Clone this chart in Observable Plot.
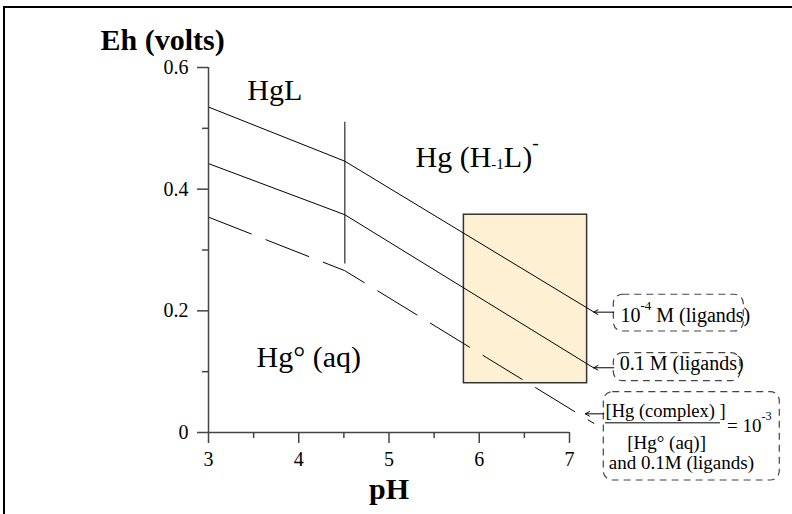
<!DOCTYPE html>
<html><head><meta charset="utf-8">
<script src="https://cdn.jsdelivr.net/npm/d3@7"></script>
<script src="https://cdn.jsdelivr.net/npm/@observablehq/plot@0.6"></script>
<style>
html,body{margin:0;padding:0;background:#fff;overflow:hidden}
#wrap{position:relative;width:792px;height:514px}
#frame{position:absolute;left:3px;top:6px;width:820px;height:620px;border-left:2px solid #000;border-top:2px solid #000;pointer-events:none}
</style></head><body><div id="wrap"><div id="frame"></div></div>
<script>
// ---- data ----
const pH = [3, 4.51, 7.27];
const eh_1e4 = [0.535, 0.446, 0.198];   // 10^-4 M (ligands)
const eh_01 = [0.442, 0.358, 0.106];    // 0.1 M (ligands)
const eh_ratio = [0.354, 0.266, 0.015]; // [Hg complex]/[Hg°(aq)] = 10^-3
const boundaryPH = [4.51];
const boundaryEh = [0.277, 0.51];
const boxPH = [5.83, 7.195];
const boxEh = [0.081, 0.358];
const xTicks = [3, 4, 5, 6, 7];
const xMinor = [3.5, 4.5, 5.5, 6.5];
const yTicks = [0, 0.2, 0.4, 0.6];
const yMinor = [0.1, 0.3, 0.5];
const yTickLabels = ["0", "0.2", "0.4", "0.6"];
const regionText = ["HgL", "Hg (H_{-1}L)^{-}", "Hg° (aq)"];
const regionPH = [3.429, 5.294, 3.532];
const regionEh = [0.563, 0.452, 0.124];
const yTitle = "Eh (volts)";
const yTitlePos = [1.803, 0.644];
const xTitle = "pH";
const xTitlePos = [5.0, -0.093];
const legendText = ["10^{-4} M (ligands)", "0.1 M (ligands)"];
const legendPH = [7.565, 7.557];
const legendEh = [0.1914, 0.1136];
const numeratorText = ["[Hg (complex) ]"];
const numeratorPos = [7.399, 0.0352];
const ratioText = ["= 10^{-3}", "[Hg° (aq)]", "and 0.1M (ligands)"];
const ratioPH = [8.745, 7.639, 7.436];
const ratioEh = [0.0105, -0.0168, -0.0508];
const noteBoxPH1 = [7.491, 7.491, 7.380];
const noteBoxPH2 = [8.931, 8.895, 9.330];
const noteBoxEh1 = [0.166, 0.0843, -0.0789];
const noteBoxEh2 = [0.2264, 0.1304, 0.0663];
const arrowFromPH = [7.491, 7.491, 7.380];
const arrowToPH = [7.270, 7.270, 7.177];
const arrowEh = [0.1978, 0.1064, 0.0307];
const fractionBarPH = [7.399, 8.673];
const fractionBarEh = [0.0159];

// ---- build tables ----
const series = (vals) => pH.map((x, i) => ({x, y: vals[i]}));
const regions = regionText.map((t, i) => ({t, x: regionPH[i], y: regionEh[i]}));
const legends = legendText.map((t, i) => ({t, x: legendPH[i], y: legendEh[i]}));
const ratios = ratioText.map((t, i) => ({t, x: ratioPH[i], y: ratioEh[i]}));
const noteBoxes = noteBoxPH1.map((x1, i) => ({x1, x2: noteBoxPH2[i], y1: noteBoxEh1[i], y2: noteBoxEh2[i]}));
const arrows = arrowFromPH.map((x1, i) => ({x1, x2: arrowToPH[i], y: arrowEh[i]}));

const AX = "#444";
const plot = Plot.plot({
  width: 792, height: 514,
  marginLeft: 208, marginRight: 223, marginTop: 67, marginBottom: 82,
  x: {domain: [3, 7]},
  y: {domain: [0, 0.6]},
  style: {fontFamily: "'Liberation Serif', 'Times New Roman', serif", fontSize: "20px", color: "black", background: "white"},
  marks: [
    Plot.rect([{x1: boxPH[0], x2: boxPH[1], y1: boxEh[0], y2: boxEh[1]}], {x1: "x1", x2: "x2", y1: "y1", y2: "y2", fill: "#FEF0D3", stroke: "#333", strokeWidth: 1.5}),
    Plot.ruleX([0], {x: () => boundaryPH[0], y1: () => boundaryEh[0], y2: () => boundaryEh[1], stroke: "#555", strokeWidth: 1.5}),
    Plot.line(series(eh_1e4), {x: "x", y: "y", stroke: "black", strokeWidth: 1}),
    Plot.line(series(eh_01), {x: "x", y: "y", stroke: "black", strokeWidth: 1}),
    Plot.line(series(eh_ratio), {x: "x", y: "y", stroke: "black", strokeWidth: 1, strokeDasharray: "46,15.7"}),
    // axes
    Plot.ruleX([3], {y1: () => 0, y2: () => 0.6, stroke: AX, strokeWidth: 1.5}),
    Plot.ruleY([0], {x1: () => 3, x2: () => 7, stroke: AX, strokeWidth: 1.5}),
    Plot.axisX(xTicks, {anchor: "bottom", tickSize: 11, tickPadding: 8, fontSize: 20, stroke: AX, strokeWidth: 1.5, label: null}),
    Plot.axisX(xMinor, {anchor: "bottom", tickSize: 6, tickFormat: () => "", stroke: AX, strokeWidth: 1.5, label: null}),
    Plot.axisY(yTicks, {anchor: "left", tickSize: 11, tickPadding: 9, fontSize: 20, stroke: AX, strokeWidth: 1.5, label: null, tickFormat: d => yTickLabels[yTicks.indexOf(d)]}),
    Plot.axisY(yMinor, {anchor: "left", tickSize: 6, tickFormat: () => "", stroke: AX, strokeWidth: 1.5, label: null}),
    // labels
    Plot.text(regions, {x: "x", y: "y", text: "t", textAnchor: "start", fontSize: 30, fill: "black"}),
    Plot.text([yTitle], {x: () => yTitlePos[0], y: () => yTitlePos[1], text: d => d, textAnchor: "start", fontSize: 30, fontWeight: "bold", fill: "black"}),
    Plot.text([xTitle], {x: () => xTitlePos[0], y: () => xTitlePos[1], text: d => d, textAnchor: "middle", fontSize: 30, fontWeight: "bold", fill: "black"}),
    // annotations
    Plot.rect(noteBoxes, {x1: "x1", x2: "x2", y1: "y1", y2: "y2", fill: "white", stroke: "#444", strokeWidth: 1.2, strokeDasharray: "7,5", rx: 9}),
    Plot.arrow(arrows, {x1: "x1", x2: "x2", y1: "y", y2: "y", stroke: "black", strokeWidth: 1, headLength: 7}),
    Plot.ruleY(fractionBarEh, {x1: () => fractionBarPH[0], x2: () => fractionBarPH[1], stroke: "black", strokeWidth: 1}),
    Plot.text(legends, {x: "x", y: "y", text: "t", textAnchor: "start", fontSize: 20, fill: "black"}),
    Plot.text(numeratorText, {x: () => numeratorPos[0], y: () => numeratorPos[1], text: d => d, textAnchor: "start", fontSize: 18.5, fill: "black"}),
    Plot.text(ratios, {x: "x", y: "y", text: "t", textAnchor: "start", fontSize: 19, fill: "black"})
  ]
});
document.getElementById("wrap").prepend(plot);

// rich text: ^{..} superscript, _{..} subscript
const NS = "http://www.w3.org/2000/svg";
d3.select(plot).selectAll("text").each(function () {
  const s = this.textContent;
  if (!/[\^_]\{/.test(s)) return;
  const g = this.closest("[font-size]");
  const fs = parseFloat(g ? g.getAttribute("font-size") : 20) || 20;
  const parts = s.split(/([\^_]\{[^}]*\})/).filter(p => p);
  this.textContent = "";
  let shift = 0;
  for (const p of parts) {
    const t = document.createElementNS(NS, "tspan");
    let target = 0, txt = p, size = null;
    if (p.startsWith("^{")) { txt = p.slice(2, -1); target = -0.62 * fs; size = 0.65 * fs; }
    else if (p.startsWith("_{")) { txt = p.slice(2, -1); target = 0.05 * fs; size = 0.5 * fs; }
    t.setAttribute("dy", (target - shift).toFixed(2));
    if (size) t.setAttribute("font-size", size.toFixed(1));
    shift = target;
    t.textContent = txt;
    this.appendChild(t);
  }
});
</script></body></html>
